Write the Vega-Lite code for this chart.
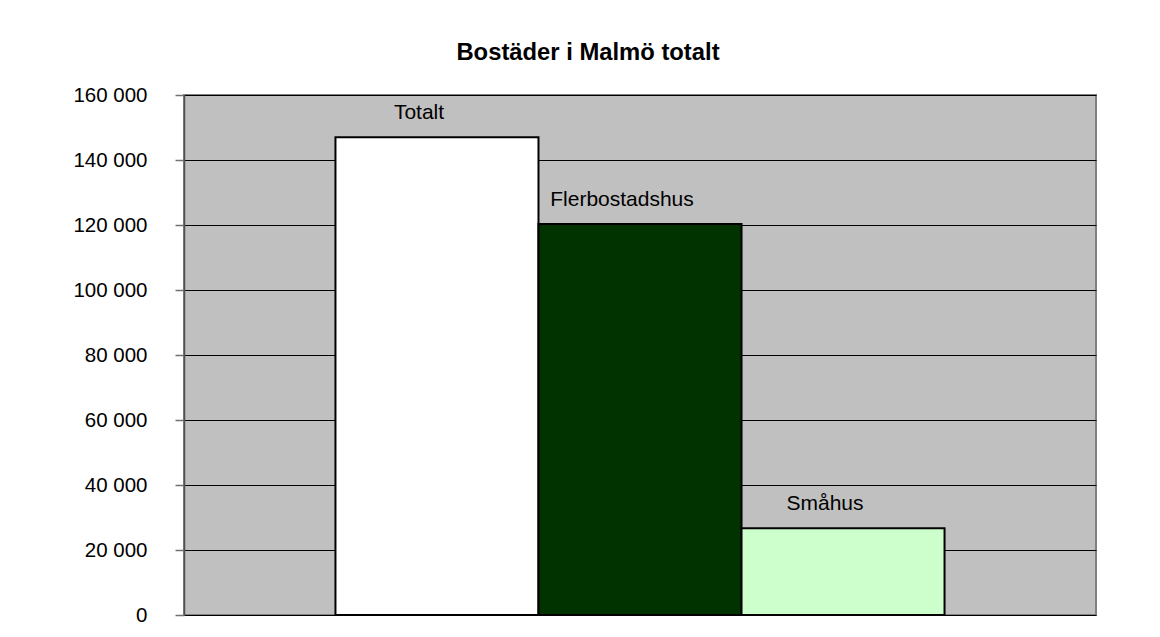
{
  "$schema": "https://vega.github.io/schema/vega-lite/v6.json",
  "autosize": {"type": "none"},
  "width": 912,
  "height": 520,
  "padding": {"left": 184, "top": 95, "right": 64, "bottom": 22},
  "background": "white",
  "title": {
    "text": "Bostäder i Malmö totalt",
    "font": "Liberation Sans",
    "fontSize": 23.8,
    "fontWeight": "bold",
    "color": "black",
    "anchor": "middle",
    "dx": -52,
    "offset": 20
  },
  "data": {
    "values": [
      {"serie": "Totalt", "antal": 147000},
      {"serie": "Flerbostadshus", "antal": 120300},
      {"serie": "Småhus", "antal": 26700}
    ]
  },
  "config": {
    "view": {"fill": "#C0C0C0", "stroke": "#808080", "strokeWidth": 2},
    "font": "Liberation Sans"
  },
  "encoding": {
    "x": {
      "field": "serie",
      "type": "nominal",
      "sort": null,
      "scale": {"paddingInner": 0, "paddingOuter": 0.746},
      "axis": null
    },
    "y": {
      "field": "antal",
      "type": "quantitative",
      "scale": {"domain": [0, 160000], "nice": false},
      "axis": {
        "title": null,
        "values": [0, 20000, 40000, 60000, 80000, 100000, 120000, 140000, 160000],
        "labelExpr": "replace(format(datum.value, ','), ',', ' ')",
        "labelFont": "Liberation Sans",
        "labelFontSize": 20.5,
        "labelColor": "black",
        "labelPadding": 28,
        "tickSize": 9,
        "tickColor": "#707070",
        "tickWidth": 1.5,
        "domainColor": "#505050",
        "domainWidth": 1.5,
        "grid": true,
        "gridColor": "black",
        "gridWidth": 1,
        "gridOpacity": 1
      }
    }
  },
  "layer": [
    {
      "mark": {"type": "bar", "stroke": "black", "strokeWidth": 2},
      "encoding": {
        "color": {
          "field": "serie",
          "type": "nominal",
          "scale": {
            "domain": ["Totalt", "Flerbostadshus", "Småhus"],
            "range": ["#FFFFFF", "#003300", "#CCFFCC"]
          },
          "legend": null
        }
      }
    },
    {
      "mark": {
        "type": "text",
        "font": "Liberation Sans",
        "fontSize": 21,
        "color": "black",
        "baseline": "alphabetic",
        "align": "center",
        "dx": -18,
        "dy": -18
      },
      "encoding": {
        "text": {"field": "serie", "type": "nominal"}
      }
    }
  ]
}
